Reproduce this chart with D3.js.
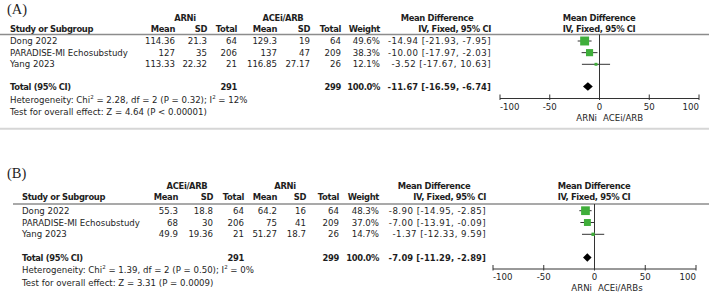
<!DOCTYPE html>
<html><head><meta charset="utf-8">
<script src="https://cdn.jsdelivr.net/npm/d3@7/dist/d3.min.js"></script>
<style>
html,body{margin:0;padding:0;background:#fff;}
svg{display:block;}
text{font-family:"DejaVu Sans",sans-serif;fill:#1e1e1e;}
</style></head>
<body>
<svg id="chart" width="709" height="293"></svg>
<script>
// ---------- data ----------
const studies = ["Dong 2022", "PARADISE-MI Echosubstudy", "Yang 2023"];
const ticks = [-100, -50, 0, 50, 100];

// Panel A
const aGroups = ["ARNi", "ACEi/ARB"];
const aG1Mean = [114.36, 127, 113.33];
const aG1SD = [21.3, 35, 22.32];
const aG1N = [64, 206, 21];
const aG2Mean = [129.3, 137, 116.85];
const aG2SD = [19, 47, 27.17];
const aG2N = [64, 209, 26];
const aWeight = [49.6, 38.3, 12.1];
const aMD = [-14.94, -10.00, -3.52];
const aLo = [-21.93, -17.97, -17.67];
const aHi = [-7.95, -2.03, 10.63];
const aTotal = {n1: 291, n2: 299, md: -11.67, lo: -16.59, hi: -6.74};
const aHet = ["2.28", "2", "0.32", "12%"];
const aTest = ["4.64", "P < 0.00001"];
const aAxisLabels = ["ARNi", "ACEi/ARB"];

// Panel B
const bGroups = ["ACEi/ARB", "ARNi"];
const bG1Mean = [55.3, 68, 49.9];
const bG1SD = [18.8, 30, 19.36];
const bG1N = [64, 206, 21];
const bG2Mean = [64.2, 75, 51.27];
const bG2SD = [16, 41, 18.7];
const bG2N = [64, 209, 26];
const bWeight = [48.3, 37.0, 14.7];
const bMD = [-8.90, -7.00, -1.37];
const bLo = [-14.95, -13.91, -12.33];
const bHi = [-2.85, -0.09, 9.59];
const bTotal = {n1: 291, n2: 299, md: -7.09, lo: -11.29, hi: -2.89};
const bHet = ["1.39", "2", "0.50", "0%"];
const bTest = ["3.31", "P = 0.0009"];
const bAxisLabels = ["ARNi", "ACEi/ARBs"];

// ---------- drawing ----------
const svg = d3.select("#chart");
const BOLD_LS = -0.35;

// fit font sizes so that reference strings get the widths seen in the original
function fitSize(str, target, bold) {
  const t = svg.append("text").style("font-size", "10px")
    .style("font-weight", bold ? "bold" : "normal")
    .style("letter-spacing", bold ? BOLD_LS + "px" : "0px").text(str);
  let s = 10;
  for (let k = 0; k < 3; k++) {
    t.style("font-size", s + "px");
    const w = t.node().getComputedTextLength();
    s = s * target / w;
  }
  t.remove();
  return s;
}
const FS = fitSize("PARADISE-MI Echosubstudy", 118, false);
const FSB = fitSize("Study or Subgroup", 83, true);
const MD_LS = 0.48;      // extra tracking of the effect-size column
const MD_LS_B = 0.12;    // bold total effect-size

function txt(g, x, y, s, anchor, bold, ls) {
  const t = g.append("text").attr("x", x).attr("y", y)
    .attr("text-anchor", anchor || "start")
    .attr("dominant-baseline", "central")
    .style("font-size", (bold ? FSB : FS) + "px")
    .style("font-weight", bold ? "bold" : "normal")
    .text(s);
  if (ls !== undefined) t.style("letter-spacing", ls + "px");
  else if (bold) t.style("letter-spacing", BOLD_LS + "px");
  return t;
}

function drawPanel(L, d) {
  const g = svg.append("g");
  g.append("text").attr("x", L.labelX).attr("y", L.yLabel)
    .attr("dominant-baseline", "central")
    .style("font-family", "'Liberation Serif', serif").style("font-size", "14.5px")
    .text(d.label);
  txt(g, L.g1C, L.yGroup, d.groups[0], "middle", true);
  txt(g, L.g2C, L.yGroup, d.groups[1], "middle", true);
  txt(g, L.mdC, L.yGroup, "Mean Difference", "middle", true);
  txt(g, L.plotC, L.yGroup, "Mean Difference", "middle", true);
  txt(g, L.studyX, L.yHead, "Study or Subgroup", "start", true);
  const cols = ["Mean", "SD", "Total", "Mean", "SD", "Total", "Weight"];
  cols.forEach((c, i) => txt(g, L.colR[i], L.yHead, c, "end", true));
  txt(g, L.mdR, L.yHead, "IV, Fixed, 95% CI", "end", true);
  txt(g, L.plotC, L.yHead, "IV, Fixed, 95% CI", "middle", true);
  g.append("line").attr("x1", L.ruleX0).attr("x2", 709).attr("y1", L.yRule).attr("y2", L.yRule)
    .attr("stroke", "#8c8c8c").attr("stroke-width", 1.6);

  const x = d3.scaleLinear().domain([-100, 100]).range([L.plotX0, L.plotX1]);
  const y = d3.scalePoint().domain(studies).range([L.yRow0, L.yRow2]);
  const size = d3.scaleLinear().domain([0, 50]).range([1, 9]);

  studies.forEach((s, i) => {
    const yy = y(s);
    txt(g, L.studyX, yy, s);
    const vals = [d.g1Mean[i], d.g1SD[i], d.g1N[i], d.g2Mean[i], d.g2SD[i], d.g2N[i]];
    vals.forEach((v, j) => txt(g, L.colR[j], yy, String(v), "end"));
    txt(g, L.colR[6], yy, d.weight[i].toFixed(1) + "%", "end");
    txt(g, L.mdR, yy, `${d.md[i].toFixed(2)} [${d.lo[i].toFixed(2)}, ${d.hi[i].toFixed(2)}]`, "end", false, MD_LS);
  });

  txt(g, L.studyX, L.yTotal, "Total (95% CI)", "start", true);
  txt(g, L.colR[2], L.yTotal, String(d.total.n1), "end", true);
  txt(g, L.colR[5], L.yTotal, String(d.total.n2), "end", true);
  txt(g, L.colR[6], L.yTotal, "100.0%", "end", true);
  txt(g, L.mdR, L.yTotal, `${d.total.md.toFixed(2)} [${d.total.lo.toFixed(2)}, ${d.total.hi.toFixed(2)}]`, "end", true, MD_LS_B);

  const h = txt(g, L.studyX, L.yHet, "");
  h.append("tspan").text(`Heterogeneity: Chi`);
  h.append("tspan").attr("dy", -3).style("font-size", "5.5px").text("2");
  h.append("tspan").attr("dy", 3).text(` = ${d.het[0]}, df = ${d.het[1]} (P = ${d.het[2]}); I`);
  h.append("tspan").attr("dy", -3).style("font-size", "5.5px").text("2");
  h.append("tspan").attr("dy", 3).text(` = ${d.het[3]}`);
  txt(g, L.studyX, L.yTest, `Test for overall effect: Z = ${d.test[0]} (${d.test[1]})`);

  g.append("line").attr("x1", x(0)).attr("x2", x(0)).attr("y1", L.yRule).attr("y2", L.yAxis)
    .attr("stroke", "#333").attr("stroke-width", 1);

  studies.forEach((s, i) => {
    const yy = y(s);
    g.append("line").attr("x1", x(d.lo[i])).attr("x2", x(d.hi[i])).attr("y1", yy).attr("y2", yy)
      .attr("stroke", "#333").attr("stroke-width", 1);
    const sz = size(d.weight[i]);
    g.append("rect").attr("x", x(d.md[i]) - sz / 2).attr("y", yy - sz / 2)
      .attr("width", sz).attr("height", sz).attr("fill", "#3fae3a");
  });
  const yt = L.yTotal, hh = 4.2;
  g.append("path")
    .attr("d", `M${x(d.total.lo)},${yt} L${x(d.total.md)},${yt - hh} L${x(d.total.hi)},${yt} L${x(d.total.md)},${yt + hh} Z`)
    .attr("fill", "#000");

  g.append("line").attr("x1", x(-100)).attr("x2", x(100)).attr("y1", L.yAxis).attr("y2", L.yAxis)
    .attr("stroke", "#333").attr("stroke-width", 1);
  ticks.forEach((t, i) => {
    g.append("line").attr("x1", x(t)).attr("x2", x(t)).attr("y1", L.yAxis - 4).attr("y2", L.yAxis + 1.5)
      .attr("stroke", "#333").attr("stroke-width", 1);
    const anchor = i === 0 ? "start" : (i === ticks.length - 1 ? "end" : "middle");
    txt(g, x(t), L.yTick, String(t), anchor);
  });
  txt(g, x(0) - 2.5, L.yAxisLab, d.axisLabels[0], "end");
  txt(g, x(0) + 3.5, L.yAxisLab, d.axisLabels[1], "start");

  if (L.yBottom) {
    g.append("line").attr("x1", 0).attr("x2", 709).attr("y1", L.yBottom).attr("y2", L.yBottom)
      .attr("stroke", "#d6d6d6").attr("stroke-width", 2);
  }
}

drawPanel({
  labelX: 7, yLabel: 9, yGroup: 17.5, yHead: 28.8, yRule: 34.5,
  yRow0: 41, yRow2: 64.3, yTotal: 86.5, yHet: 99.7, yTest: 111.5,
  yAxis: 98.5, yTick: 107, yAxisLab: 117.5, yBottom: 128.7,
  ruleX0: 0, studyX: 10,
  g1C: 185, g2C: 283,
  colR: [175, 207, 237, 277, 310, 341, 380],
  mdR: 491, mdC: 437,
  plotX0: 500, plotX1: 699, plotC: 599
}, {
  label: "(A)", groups: aGroups,
  g1Mean: aG1Mean, g1SD: aG1SD, g1N: aG1N, g2Mean: aG2Mean, g2SD: aG2SD, g2N: aG2N,
  weight: aWeight, md: aMD, lo: aLo, hi: aHi, total: aTotal,
  het: aHet, test: aTest, axisLabels: aAxisLabels
});

drawPanel({
  labelX: 7, yLabel: 173, yGroup: 185.5, yHead: 197, yRule: 204,
  yRow0: 210.7, yRow2: 234.3, yTotal: 257.5, yHet: 270, yTest: 282.5,
  yAxis: 269, yTick: 277, yAxisLab: 287.5, yBottom: null,
  ruleX0: 13, studyX: 22,
  g1C: 187, g2C: 285,
  colR: [178, 213, 244, 277, 306, 339, 379],
  mdR: 486, mdC: 434,
  plotX0: 493, plotX1: 696, plotC: 594
}, {
  label: "(B)", groups: bGroups,
  g1Mean: bG1Mean, g1SD: bG1SD, g1N: bG1N, g2Mean: bG2Mean, g2SD: bG2SD, g2N: bG2N,
  weight: bWeight, md: bMD, lo: bLo, hi: bHi, total: bTotal,
  het: bHet, test: bTest, axisLabels: bAxisLabels
});
</script>
</body></html>
